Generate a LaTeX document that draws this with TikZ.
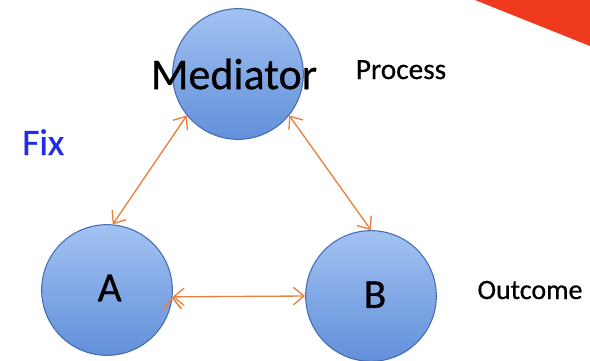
\documentclass[tikz,border=0pt]{standalone}
\usepackage{fontspec}
\setmainfont{Carlito}[FakeBold=0.6]
\usepackage{xcolor}
\usetikzlibrary{arrows.meta, positioning, shadings}
\definecolor{circtop}{RGB}{162,194,242}
\definecolor{circbot}{RGB}{98,144,218}
\definecolor{circline}{RGB}{70,108,178}
\definecolor{arrorange}{RGB}{232,128,64}
\definecolor{fixblue}{RGB}{30,45,235}
\definecolor{cornerred}{RGB}{240,58,32}

\begin{document}
\begin{tikzpicture}[x=0.75pt,y=-0.75pt,>={Straight Barb[length=8pt,width=13pt]}]
    \tikzstyle{bubble}=[shape=circle,draw=circline,line width=0.8pt,top color=circtop,bottom color=circbot,minimum size=98pt,inner sep=0pt]
    \tikzstyle{note}=[font=\fontsize{21}{25}\selectfont,inner sep=0pt,anchor=base]

    \useasboundingbox (0,0) rectangle (590,361);
    \fill[cornerred] (475,0) -- (590,0) -- (590,46) -- cycle;

    \node[bubble,font=\fontsize{33}{36}\selectfont] (M) at (238,74) {\makebox[0pt]{Mediator\hspace{6pt}}};
    \node[bubble,font=\fontsize{31}{34}\selectfont] (A) at (107,290) {\raisebox{3pt}{\hspace{4pt}A}};
    \node[bubble,font=\fontsize{31}{34}\selectfont] (B) at (371,296) {\raisebox{2pt}{\hspace{6pt}B}};

    \node[note,font=\fontsize{22}{26}\selectfont] (process) at (401,79) {Process};
    \node[note] (outcome) at (530,299) {Outcome};
    \node[note,anchor=base west,font=\fontsize{28}{32}\selectfont,text=fixblue] (fix) at (22,155) {Fix};

    \path[<->,draw,arrorange,line width=1pt]
    (M.219) edge (A.85)
    (M.-39) edge (B.north)
    (A.-6) edge (B.west)
   ;

  \end{tikzpicture}
\end{document}
